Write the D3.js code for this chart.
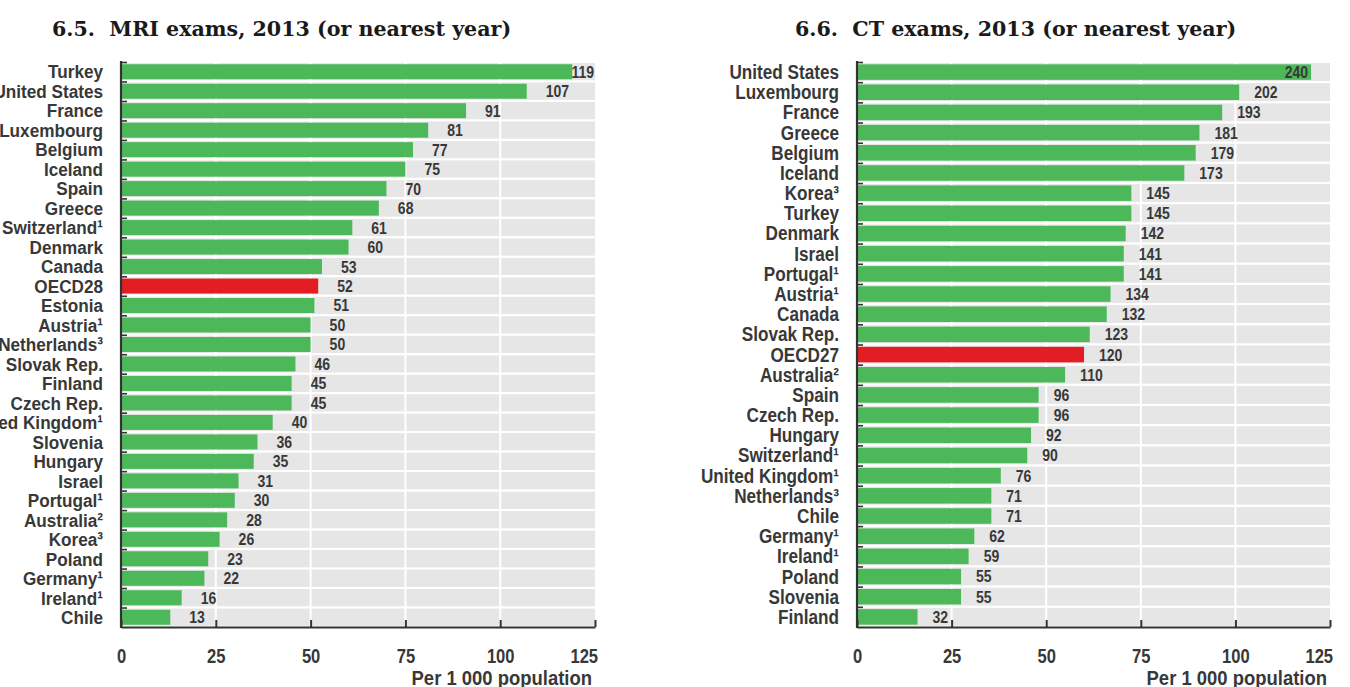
<!DOCTYPE html>
<html>
<head>
<meta charset="utf-8">
<script src="https://d3js.org/d3.v7.min.js"></script>
<style>
  body { margin: 0; background: #fff; }
  .lbl { font-family: "Liberation Sans", Arial, sans-serif; font-weight: bold; fill: #383838; }
  .title { font-family: "DejaVu Serif", "Liberation Serif", serif; font-weight: bold; fill: #1a1a1a; }
</style>
</head>
<body>
<svg id="chart"></svg>
<script>
// MRI exams per 1 000 population
const mriCountries = ["Turkey", "United States", "France", "Luxembourg", "Belgium", "Iceland", "Spain", "Greece",
  "Switzerland¹", "Denmark", "Canada", "OECD28", "Estonia", "Austria¹", "Netherlands³", "Slovak Rep.", "Finland",
  "Czech Rep.", "United Kingdom¹", "Slovenia", "Hungary", "Israel", "Portugal¹", "Australia²", "Korea³", "Poland",
  "Germany¹", "Ireland¹", "Chile"];
const mriValues = [119, 107, 91, 81, 77, 75, 70, 68, 61, 60, 53, 52, 51, 50, 50, 46, 45, 45, 40, 36, 35, 31, 30, 28, 26, 23, 22, 16, 13];

// CT exams per 1 000 population
const ctCountries = ["United States", "Luxembourg", "France", "Greece", "Belgium", "Iceland", "Korea³", "Turkey",
  "Denmark", "Israel", "Portugal¹", "Austria¹", "Canada", "Slovak Rep.", "OECD27", "Australia²", "Spain", "Czech Rep.",
  "Hungary", "Switzerland¹", "United Kingdom¹", "Netherlands³", "Chile", "Germany¹", "Ireland¹", "Poland", "Slovenia", "Finland"];
const ctValues = [240, 202, 193, 181, 179, 173, 145, 145, 142, 141, 141, 134, 132, 123, 120, 110, 96, 96, 92, 90, 76, 71, 71, 62, 59, 55, 55, 32];

// axis ticks (the CT panel prints half-scale labels, as in the source figure)
const mriTicks = [0, 25, 50, 75, 100, 125];
const ctTicks = [0, 50, 100, 150, 200, 250];
const tickLabels = ["0", "25", "50", "75", "100", "125"];

const width = 1350, height = 687;
const svg = d3.select("#chart").attr("width", width).attr("height", height);

const green = "#4cb85a", red = "#e21d24", grey = "#e6e6e6";
const narrow = 0.85; // squeeze Liberation Sans into a narrow face

function drawPanel(opt) {
  const g = svg.append("g");
  const x = d3.scaleLinear().domain([0, opt.ticks[opt.ticks.length - 1]]).range([opt.x0, opt.x1]);
  const y = d3.scaleBand().domain(opt.countries).range([62, 627]);
  const step = y.step();

  g.append("text").attr("class", "title")
    .attr("x", opt.titleX).attr("y", 36)
    .style("font-size", "20.6px")
    .attr("xml:space", "preserve")
    .text(opt.title);

  // grey row backgrounds
  g.selectAll(".row").data(opt.countries).enter().append("rect")
    .attr("x", opt.x0).attr("width", opt.x1 - opt.x0)
    .attr("y", d => y(d) + 1).attr("height", step - 2.2)
    .attr("fill", grey);

  // white vertical grid lines
  g.selectAll(".grid").data(opt.ticks.slice(1, -1)).enter().append("line")
    .attr("x1", d => x(d)).attr("x2", d => x(d))
    .attr("y1", 62).attr("y2", 627)
    .attr("stroke", "#fff").attr("stroke-width", 2);

  // bars
  const bh = step * 0.77;
  g.selectAll(".bar").data(opt.values).enter().append("rect")
    .attr("x", opt.x0)
    .attr("y", (d, i) => y(opt.countries[i]) + (step - bh) / 2)
    .attr("width", d => x(d) - opt.x0)
    .attr("height", bh)
    .attr("fill", (d, i) => opt.countries[i].startsWith("OECD") ? red : green);

  // value labels
  g.selectAll(".val").data(opt.values).enter().append("text")
    .attr("class", "lbl")
    .style("font-size", "16.5px")
    .attr("dy", "0.36em")
    .each(function (d, i) {
      const end = x(d);
      const t = d3.select(this);
      let px;
      if (end + opt.gap + 26 > opt.x1) {
        t.attr("text-anchor", "end");
        px = opt.overflowX(end);
      } else {
        t.attr("text-anchor", "start");
        px = end + opt.gap;
      }
      t.attr("transform", `translate(${px},${y(opt.countries[i]) + step / 2}) scale(${narrow},1)`);
    })
    .text(d => d);

  // category labels (font kept inside the row height, width held constant)
  const catSize = Math.min(19.5, step * 0.96);
  const catScale = 0.88 * 19.5 / catSize;
  g.selectAll(".cat").data(opt.countries).enter().append("text")
    .attr("class", "lbl")
    .style("font-size", catSize + "px")
    .attr("text-anchor", "end")
    .attr("dy", "0.36em")
    .attr("transform", d => `translate(${opt.x0 - 18},${y(d) + step / 2}) scale(${catScale},1)`)
    .text(d => d);

  // left axis line with ticks at row boundaries
  g.append("line").attr("x1", opt.x0).attr("x2", opt.x0).attr("y1", 61).attr("y2", 628)
    .attr("stroke", "#333").attr("stroke-width", 2.2);
  g.selectAll(".ltick").data(opt.countries).enter().append("line")
    .attr("x1", opt.x0).attr("x2", opt.x0 + 6)
    .attr("y1", d => y(d) + 0.5).attr("y2", d => y(d) + 0.5)
    .attr("stroke", "#333").attr("stroke-width", 1.6);

  // bottom axis
  const axis = g.append("g").attr("transform", "translate(0,627)")
    .call(d3.axisBottom(x).tickValues(opt.ticks).tickSizeInner(-7).tickSizeOuter(0)
      .tickPadding(22).tickFormat((d, i) => tickLabels[i]));
  axis.select(".domain").attr("stroke", "#333").attr("stroke-width", 2.2);
  axis.selectAll(".tick line").attr("stroke", "#333").attr("stroke-width", 2);
  axis.selectAll(".tick text").attr("class", "lbl").style("font-size", "19.5px")
    .attr("text-anchor", (d, i) => i === opt.ticks.length - 1 ? "end" : "middle")
    .attr("dx", (d, i) => i === opt.ticks.length - 1 ? 3 : 0)
    .attr("transform", `scale(${narrow},1)`);

  g.append("text").attr("class", "lbl")
    .style("font-size", "20.5px")
    .attr("text-anchor", "end")
    .attr("transform", `translate(${opt.x1 - 3},685) scale(0.9,1)`)
    .text("Per 1 000 population");
}

drawPanel({
  title: "6.5.  MRI exams, 2013 (or nearest year)", titleX: 52,
  countries: mriCountries, values: mriValues, ticks: mriTicks,
  x0: 121, x1: 595, gap: 19, overflowX: end => Math.min(end + 22, 594)
});

drawPanel({
  title: "6.6.  CT exams, 2013 (or nearest year)", titleX: 795,
  countries: ctCountries, values: ctValues, ticks: ctTicks,
  x0: 857, x1: 1330, gap: 15, overflowX: end => end - 3
});
</script>
</body>
</html>
